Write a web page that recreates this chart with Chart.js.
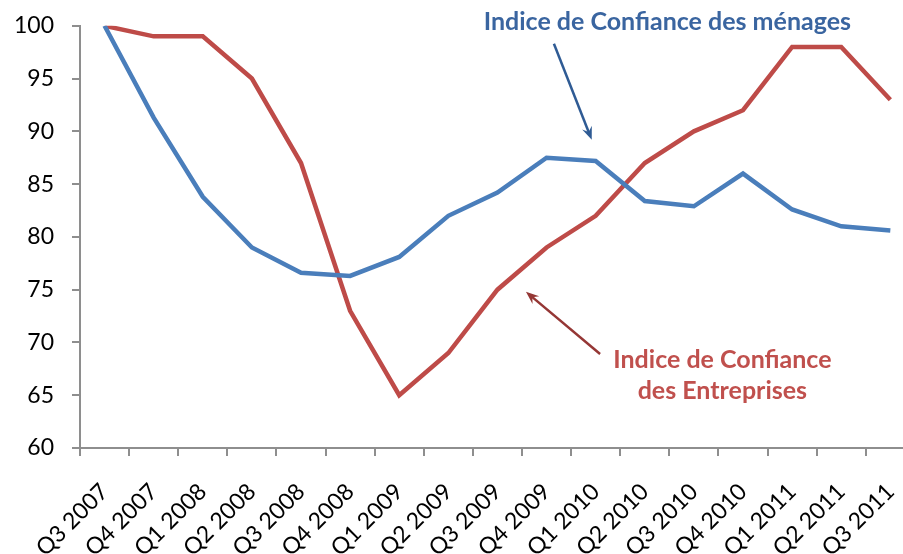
<!DOCTYPE html>
<html lang="fr">
<head>
  <meta charset="UTF-8">
  <title>Indices de confiance</title>
  <script src="https://cdn.jsdelivr.net/npm/chart.js"></script>
  <style>
    html, body { margin: 0; padding: 0; background: #fff; overflow: hidden; }
    .chart-box { position: relative; top: -6px; width: 932px; height: 560px; }
  </style>
</head>
<body>
  <div class="chart-box">
    <canvas id="confChart"></canvas>
  </div>

  <script>
    // Data
    const quarters = ['Q3 2007', 'Q4 2007', 'Q1 2008', 'Q2 2008', 'Q3 2008', 'Q4 2008',
      'Q1 2009', 'Q2 2009', 'Q3 2009', 'Q4 2009', 'Q1 2010', 'Q2 2010', 'Q3 2010',
      'Q4 2010', 'Q1 2011', 'Q2 2011', 'Q3 2011'];
    const menages = [100, 91.3, 83.8, 79.0, 76.6, 76.3, 78.1, 82.0, 84.2, 87.5, 87.2,
      83.4, 82.9, 86.0, 82.6, 81.0, 80.6];
    const entreprises = [100, 99, 99, 95, 87, 73, 65, 69, 75, 79, 82, 87, 90, 92, 98, 98, 93];
    const yTicks = [60, 65, 70, 75, 80, 85, 90, 95, 100];

    const axisGray = '#8e8e8e';

    // Callout labels and arrows, placed in data coordinates (x = category index)
    const callouts = {
      id: 'callouts',
      afterDatasetsDraw(chart) {
        const { ctx, scales: { x, y } } = chart;
        const px = (i, v) => [x.getPixelForValue(i), y.getPixelForValue(v)];

        function arrow(from, to, color) {
          const [x1, y1] = px(from[0], from[1]);
          const [x2, y2] = px(to[0], to[1]);
          const ang = Math.atan2(y2 - y1, x2 - x1);
          ctx.save();
          ctx.strokeStyle = color;
          ctx.fillStyle = color;
          ctx.lineWidth = 2.5;
          ctx.beginPath();
          ctx.moveTo(x1, y1);
          ctx.lineTo(x2 - 6 * Math.cos(ang), y2 - 6 * Math.sin(ang));
          ctx.stroke();
          // arrow head
          const len = 14, wid = 0.38;
          ctx.beginPath();
          ctx.moveTo(x2, y2);
          ctx.lineTo(x2 - len * Math.cos(ang - wid), y2 - len * Math.sin(ang - wid));
          ctx.lineTo(x2 - len * 0.6 * Math.cos(ang), y2 - len * 0.6 * Math.sin(ang));
          ctx.lineTo(x2 - len * Math.cos(ang + wid), y2 - len * Math.sin(ang + wid));
          ctx.closePath();
          ctx.fill();
          ctx.restore();
        }

        function label(text, at, color) {
          const [lx, ly] = px(at[0], at[1]);
          ctx.save();
          ctx.font = 'bold 25px Lato';
          ctx.fillStyle = color;
          ctx.textAlign = 'center';
          ctx.textBaseline = 'middle';
          ctx.fillText(text, lx, ly);
          ctx.restore();
        }

        arrow([9.15, 98.3], [9.92, 89.2], '#2f5b94');
        label('Indice de Confiance des ménages', [11.46, 100.4], '#3a65a0');

        arrow([10.09, 68.9], [8.58, 74.8], '#953735');
        label('Indice de Confiance', [12.58, 68.3], '#c0504d');
        label('des Entreprises', [12.58, 65.4], '#c0504d');
      }
    };

    const ctx = document.getElementById('confChart').getContext('2d');
    new Chart(ctx, {
      type: 'line',
      data: {
        labels: quarters,
        datasets: [
          {
            label: 'Indice de Confiance des ménages',
            data: menages,
            borderColor: '#4a7ebb',
            borderWidth: 4.5,
            pointRadius: 0,
            tension: 0,
            fill: false
          },
          {
            label: 'Indice de Confiance des Entreprises',
            data: entreprises,
            borderColor: '#be4b48',
            borderWidth: 4.5,
            pointRadius: 0,
            tension: 0,
            fill: false
          }
        ]
      },
      options: {
        responsive: true,
        maintainAspectRatio: false,
        animation: false,
        layout: { padding: { top: 15, right: 5, left: 0, bottom: 0 } },
        plugins: {
          legend: { display: false },
          tooltip: { enabled: false }
        },
        scales: {
          x: {
            offset: true,
            grid: { offset: true, drawOnChartArea: false, drawTicks: true, tickLength: 8, color: axisGray, lineWidth: 2 },
            border: { color: axisGray, width: 2 },
            ticks: {
              color: '#000',
              font: { family: 'Lato', size: 23 },
              minRotation: 45,
              maxRotation: 45,
              autoSkip: false,
              padding: 22
            },
            afterFit(scale) { scale.height = 106; }
          },
          y: {
            min: 60,
            max: 100,
            afterBuildTicks(scale) { scale.ticks = yTicks.map(v => ({ value: v })); },
            grid: { drawOnChartArea: false, drawTicks: true, tickLength: 8, color: axisGray, lineWidth: 2 },
            border: { color: axisGray, width: 2 },
            ticks: {
              color: '#000',
              font: { family: 'Lato', size: 23 },
              padding: 18
            },
            afterFit(scale) { scale.width = 80; }
          }
        }
      },
      plugins: [callouts]
    });
  </script>
</body>
</html>
